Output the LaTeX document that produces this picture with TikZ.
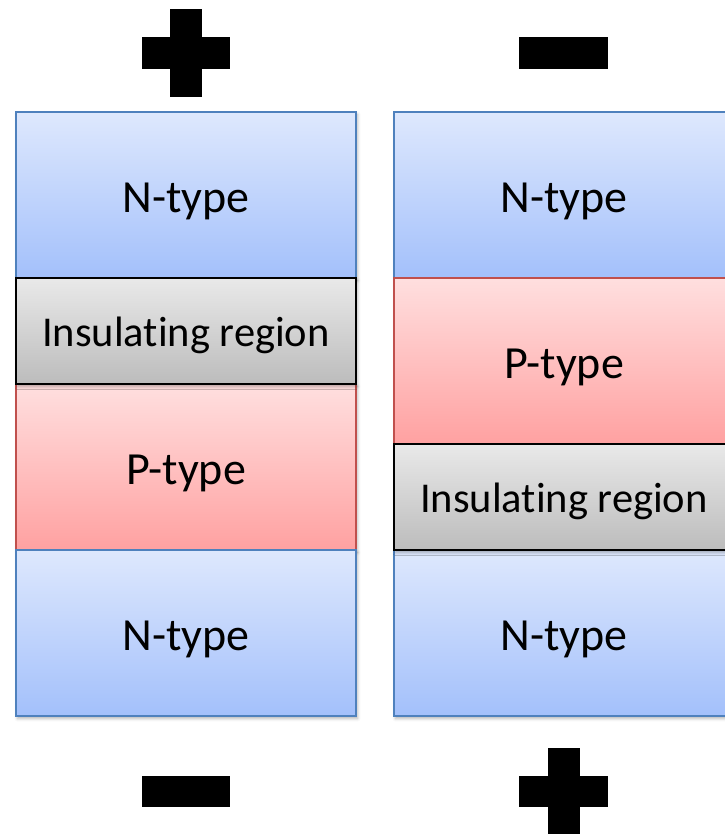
\documentclass[tikz,border=0pt]{standalone}
\usepackage{fontspec}
\setmainfont[Ligatures=NoCommon]{Carlito}
\usetikzlibrary{shadows.blur}
\definecolor{nborder}{HTML}{4F81BD}
\definecolor{pborder}{HTML}{C0504D}
\definecolor{ntop}{HTML}{DEE8FD}
\definecolor{nbot}{HTML}{A3C0FB}
\definecolor{ptop}{HTML}{FFDFDF}
\definecolor{pbot}{HTML}{FFA1A1}
\definecolor{gtop}{HTML}{E9E9E9}
\definecolor{gbot}{HTML}{BCBCBC}
\tikzset{
  layer/.style={rectangle, inner sep=0pt, minimum width=340pt, text depth=0pt,
    blur shadow={shadow xshift=1.5pt, shadow yshift=-2.5pt, shadow blur radius=3pt, shadow opacity=30}},
  nlayer/.style={layer, minimum height=166pt, draw=nborder, line width=1.5pt, top color=ntop, bottom color=nbot,
    font=\fontsize{46}{54}\selectfont, text height=34.6pt},
  player/.style={layer, minimum height=166pt, draw=pborder, line width=1.5pt, top color=ptop, bottom color=pbot,
    font=\fontsize{46}{54}\selectfont, text height=34.6pt},
  ilayer/.style={layer, minimum height=106pt, draw=black, line width=2pt, top color=gtop, bottom color=gbot,
    font=\fontsize{42.5}{50}\selectfont, text height=31.4pt},
  sign/.style={fill=black}
}
\begin{document}
\begin{tikzpicture}[x=1pt,y=-1pt]
\useasboundingbox (0,0) rectangle (724,834);
% left column
\node[nlayer] (ln1) at (186,195) {N-type};
\node[player] (lp) at (186,467) {P-type};
\node[nlayer] (ln2) at (186,633) {N-type};
\node[ilayer] (li) at (186,331) {Insulating region};
% right column
\node[nlayer] (rn1) at (564,195) {N-type};
\node[player] (rp) at (564,361) {P-type};
\node[nlayer] (rn2) at (564,633) {N-type};
\node[ilayer] (ri) at (564,497) {Insulating region};
% signs
\fill[sign] (142,37) rectangle (230,69);
\fill[sign] (170,9) rectangle (202,97);
\fill[sign] (519,37) rectangle (608,69);
\fill[sign] (142,776) rectangle (230,807);
\fill[sign] (519,776) rectangle (608,807);
\fill[sign] (548,748) rectangle (580,840);
\end{tikzpicture}
\end{document}
